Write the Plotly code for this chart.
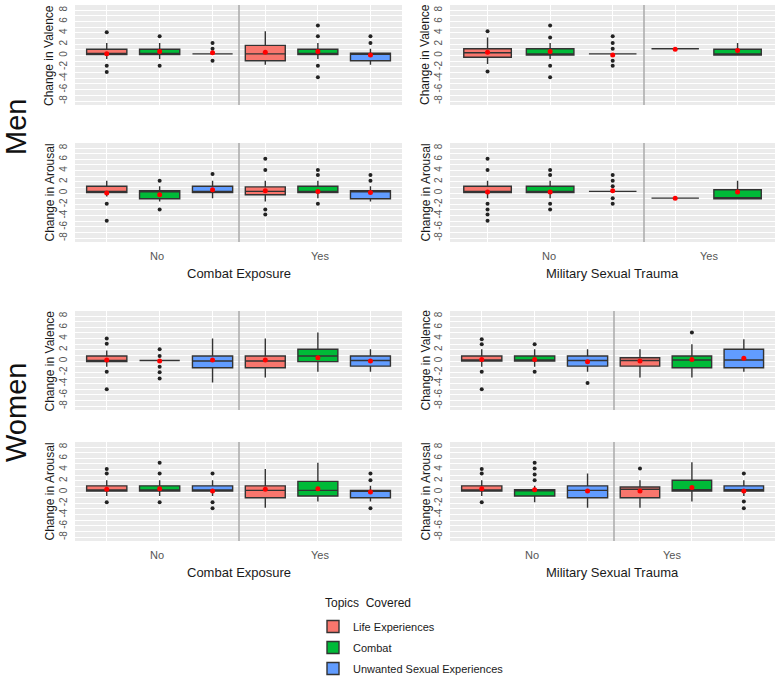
import plotly.graph_objects as go

# ---------------- data ----------------
TOPICS = ["Life Experiences", "Combat", "Unwanted Sexual Experiences"]
FILLS = ["#F8766D", "#00BA38", "#619CFF"]
FACETS = ["No", "Yes"]
EXPOSURES = ["Combat Exposure", "Military Sexual Trauma"]
MEASURES = ["Change in Valence", "Change in Arousal"]
SEXES = ["Men", "Women"]
LEGEND_TITLE = "Topics  Covered"
Y_TICKS = [-8, -6, -4, -2, 0, 2, 4, 6, 8]

# long-format table: one entry per box
# panel 1..8: (Men/Women) x (Valence/Arousal) x (Combat Exposure/MST)
panel = [1] * 6 + [2] * 5 + [3] * 6 + [4] * 5 + [5] * 6 + [6] * 6 + [7] * 6 + [8] * 6
facet = ([0, 0, 0, 1, 1, 1] + [0, 0, 0, 1, 1] + [0, 0, 0, 1, 1, 1] + [0, 0, 0, 1, 1]
         + [0, 0, 0, 1, 1, 1] * 4)
topic = ([0, 1, 2, 0, 1, 2] + [0, 1, 2, 0, 1] + [0, 1, 2, 0, 1, 2] + [0, 1, 2, 0, 1]
         + [0, 1, 2, 0, 1, 2] * 4)

lo = [-0.6, -0.6, 0.3, -1.6, -0.6, -1.6,
      -1.5, -0.6, 0.3, 1.2, 0.1,
      -0.6, -1.5, -0.9, -1.5, -0.9, -1.5,
      -0.9, -0.9, 0.3, -0.9, -1.0,
      -1.0, 0.1, -3.8, -2.9, -1.9, -1.9,
      -1.0, -1.0, -1.9, -2.9, -2.9, -1.9,
      -0.7, -0.7, -0.7, -2.8, -1.7, -1.7,
      -0.7, -1.8, -2.8, -2.8, -1.7, -0.7]
q1 = [0.2, 0.2, 0.3, -0.9, 0.2, -0.9,
      -0.3, 0.1, 0.3, 1.2, 0.1,
      0.1, -1.0, 0.1, -0.3, 0.1, -1.0,
      0.1, 0.1, 0.3, -0.9, -1.0,
      -0.1, 0.1, -1.2, -1.2, -0.1, -0.9,
      0.0, 0.0, -0.9, -0.9, -1.2, -1.2,
      0.2, 0.2, 0.2, -1.0, -0.7, -1.0,
      0.2, -0.7, -1.0, -1.0, 0.2, 0.2]
med = [0.2, 0.2, 0.3, 0.3, 0.2, 0.4,
       0.5, 0.1, 0.3, 1.2, 0.1,
       0.1, 0.4, 0.1, 0.3, 0.1, 0.4,
       0.1, 0.1, 0.3, -0.9, -1.0,
       0.1, 0.1, 0.0, 0.0, 0.9, 0.1,
       0.0, 0.0, 0.1, 0.1, 0.2, 0.2,
       0.2, 0.2, 0.2, 0.3, 0.3, 0.3,
       0.2, 0.4, 0.3, 0.5, 0.4, 0.4]
q3 = [1.1, 1.1, 0.3, 1.8, 1.1, 0.4,
      1.2, 1.2, 0.3, 1.2, 1.1,
      1.2, 0.4, 1.2, 1.1, 1.2, 0.4,
      1.2, 1.2, 0.3, -0.9, 0.6,
      0.9, 0.1, 0.9, 0.9, 2.1, 0.9,
      0.9, 0.9, 0.9, 0.6, 0.9, 2.1,
      1.1, 1.1, 1.1, 1.1, 1.9, 0.3,
      1.1, 0.4, 1.1, 0.9, 2.1, 1.1]
hi = [2.2, 2.2, 0.3, 4.3, 2.2, 1.2,
      3.2, 2.2, 0.3, 1.2, 2.2,
      2.2, 1.2, 2.2, 2.2, 2.2, 1.2,
      2.2, 2.2, 0.3, -0.9, 2.2,
      1.9, 0.1, 4.0, 4.0, 5.1, 2.1,
      2.1, 2.1, 2.1, 2.1, 3.0, 3.9,
      2.1, 2.1, 2.1, 4.1, 5.2, 1.1,
      2.1, 1.1, 3.3, 2.1, 5.3, 2.1]
mean = [0.3, 0.7, 0.5, 0.6, 0.7, 0.1,
        0.6, 0.7, 0.1, 1.1, 0.9,
        0.0, -0.3, 0.6, 0.4, 0.3, 0.1,
        0.2, 0.2, 0.4, -0.9, 0.2,
        0.2, 0.0, 0.2, 0.2, 0.6, 0.0,
        0.3, 0.3, -0.1, 0.0, 0.3, 0.5,
        0.5, 0.6, 0.2, 0.5, 0.6, 0.0,
        0.6, 0.4, 0.2, 0.2, 0.8, 0.2]
outliers = [[4.1, -1.8, -2.9], [3.4, -1.8], [2.2, 1.2, -0.9], [], [5.3, 3.4, -1.8, -3.8], [3.4, 2.2],
            [4.3, -2.8], [5.3, 3.2, -1.8, -3.8], [3.4, 2.2, 1.2, -0.9, -1.8], [], [],
            [-1.9, -4.9], [2.2, -2.9], [3.4], [6.1, 4.1, -2.9, -3.8], [4.1, 3.2, -1.9], [3.2, 2.2],
            [6.1, 4.1, -1.9, -2.9, -3.8, -4.9], [4.1, 3.2, -1.9, -2.9], [3.2, 2.2, 1.2, -0.9, -1.9], [], [],
            [4.0, 3.1, -1.9, -5.0], [2.1, 0.9, -1.0, -2.0, -3.1], [], [], [], [],
            [3.9, 3.0, -1.9, -5.0], [3.0, -1.9], [-3.9], [], [5.1], [],
            [4.1, 3.3, -1.8], [5.2, 3.3, -1.8], [3.3, -1.8, -2.9], [], [], [3.3, 2.1, -2.9],
            [4.1, 3.3, -1.8], [5.2, 4.2, 3.1, 2.1], [], [4.2], [], [3.3, -1.7, -2.9]]

# ---------------- layout geometry (pixels) ----------------
W, H = 777, 680
ROW_PX = [(5, 105), (143, 242), (311, 410), (442, 541)]
LEFT_FACETS = [(75, 239), (239, 402)]
RIGHT_FACETS = [[(450, 644), (644, 775)], [(450, 614), (614, 775)]]
# horizontal centre (px) of the No / Yes labels under the bottom panels
FACET_LABEL_PX = {3: (157, 320), 4: (549, 709), 7: (157, 320), 8: (532, 672)}
FONT = "Liberation Sans, Arial, sans-serif"

fig = go.Figure()
layout = dict(
    width=W, height=H, margin=dict(l=0, r=0, t=0, b=0, autoexpand=False),
    paper_bgcolor="white", plot_bgcolor="#EBEBEB",
    font=dict(family=FONT, color="#1a1a1a"),
    boxmode="overlay",
    showlegend=True,
    legend=dict(
        font=dict(size=11, color="#1a1a1a"),
        x=313 / W, y=1 - 612 / H, xanchor="left", yanchor="top",
        bgcolor="rgba(255,255,255,0)", tracegroupgap=2,
    ),
)
shapes, annotations = [], []
N = len(panel)

for p in range(1, 9):
    row = (p - 1) // 2
    col = (p - 1) % 2
    sex = (p - 1) // 4
    measure = row % 2
    top, bot = ROW_PX[row]
    facet_px = LEFT_FACETS if col == 0 else RIGHT_FACETS[sex]
    for f in (0, 1):
        idx = (p - 1) * 2 + f + 1
        xa = "x" if idx == 1 else f"x{idx}"
        ya = "y" if idx == 1 else f"y{idx}"
        rows_here = [i for i in range(N) if panel[i] == p and facet[i] == f]
        cats = [TOPICS[topic[i]] for i in rows_here]
        n = len(cats)
        x0, x1 = facet_px[f]
        for i in rows_here:
            t = topic[i]
            fig.add_trace(go.Box(
                x=[TOPICS[t]], q1=[q1[i]], median=[med[i]], q3=[q3[i]],
                lowerfence=[lo[i]], upperfence=[hi[i]],
                width=0.76, whiskerwidth=0, boxpoints=False,
                fillcolor=FILLS[t], line=dict(color="#333333", width=1.4),
                name=TOPICS[t], legendgroup=TOPICS[t],
                showlegend=(p == 1 and f == 0),
                xaxis=xa, yaxis=ya, hoverinfo="skip",
            ))
            if outliers[i]:
                fig.add_trace(go.Scatter(
                    x=[TOPICS[t]] * len(outliers[i]), y=outliers[i], mode="markers",
                    marker=dict(color="#222222", size=4), showlegend=False,
                    xaxis=xa, yaxis=ya, hoverinfo="skip",
                ))
            fig.add_trace(go.Scatter(
                x=[TOPICS[t]], y=[mean[i]], mode="markers",
                marker=dict(color="#FF0000", size=5), showlegend=False,
                xaxis=xa, yaxis=ya, hoverinfo="skip",
            ))
        xkey = "xaxis" if idx == 1 else f"xaxis{idx}"
        ykey = "yaxis" if idx == 1 else f"yaxis{idx}"
        layout[xkey] = dict(
            domain=[x0 / W, x1 / W], anchor=ya, type="category",
            categoryorder="array", categoryarray=cats,
            range=[-0.6, n - 0.5] if f == 0 else [-0.5, n - 0.4],
            showticklabels=False, ticks="", showgrid=True, gridcolor="white",
            gridwidth=1.3, zeroline=False, showline=False, fixedrange=True,
        )
        layout[ykey] = dict(
            domain=[1 - bot / H, 1 - top / H], anchor=xa,
            range=[-8.7, 8.9], tickmode="array", tickvals=Y_TICKS,
            ticktext=[str(v) for v in Y_TICKS],
            showticklabels=(f == 0), tickangle=-90,
            tickfont=dict(size=10, color="#555555", family=FONT),
            ticks="outside", ticklen=3, tickcolor="rgba(0,0,0,0)",
            showgrid=True, gridcolor="white", gridwidth=1.3,
            minor=dict(dtick=1, tick0=0, showgrid=True, gridcolor="white", gridwidth=0.6),
            zeroline=False, showline=False, fixedrange=True,
        )
        if f == 1:
            shapes.append(dict(type="line", xref="paper", yref="paper",
                               x0=x0 / W, x1=x0 / W, y0=1 - bot / H, y1=1 - top / H,
                               line=dict(color="#AAAAAA", width=1.5)))
        if measure == 1:
            annotations.append(dict(
                text=FACETS[f], xref="paper", x=FACET_LABEL_PX[p][f] / W, yref="paper",
                y=1 - (bot + 14) / H, xanchor="center", yanchor="middle",
                showarrow=False, font=dict(size=11, color="#555555")))
    # y title
    annotations.append(dict(
        text=MEASURES[measure], xref="paper", yref="paper",
        x=(49 if col == 0 else 425) / W, y=1 - (top + bot) / 2 / H,
        xanchor="center", yanchor="middle",
        textangle=-90, showarrow=False, font=dict(size=12, color="#1a1a1a")))
    if measure == 1:
        cx = (facet_px[0][0] + facet_px[1][1]) / 2
        annotations.append(dict(
            text=EXPOSURES[col], xref="paper", yref="paper",
            x=cx / W, y=1 - (bot + 31) / H, xanchor="center", yanchor="middle",
            showarrow=False, font=dict(size=13, color="#1a1a1a")))

for s, cy in zip(SEXES, [127, 413]):
    annotations.append(dict(text=s, xref="paper", yref="paper", x=16 / W, y=1 - cy / H,
                            xanchor="center", yanchor="middle",
                            textangle=-90, showarrow=False,
                            font=dict(size=29, color="#111111")))

annotations.append(dict(text=LEGEND_TITLE, xref="paper", yref="paper",
                        x=323 / W, y=1 - 603 / H, xanchor="left", yanchor="middle",
                        showarrow=False, font=dict(size=12, color="#1a1a1a")))

layout["shapes"] = shapes
layout["annotations"] = annotations
fig.update_layout(**layout)
fig.write_html("out.html", config={"displayModeBar": False},
               post_script="document.body.style.margin='0';")
